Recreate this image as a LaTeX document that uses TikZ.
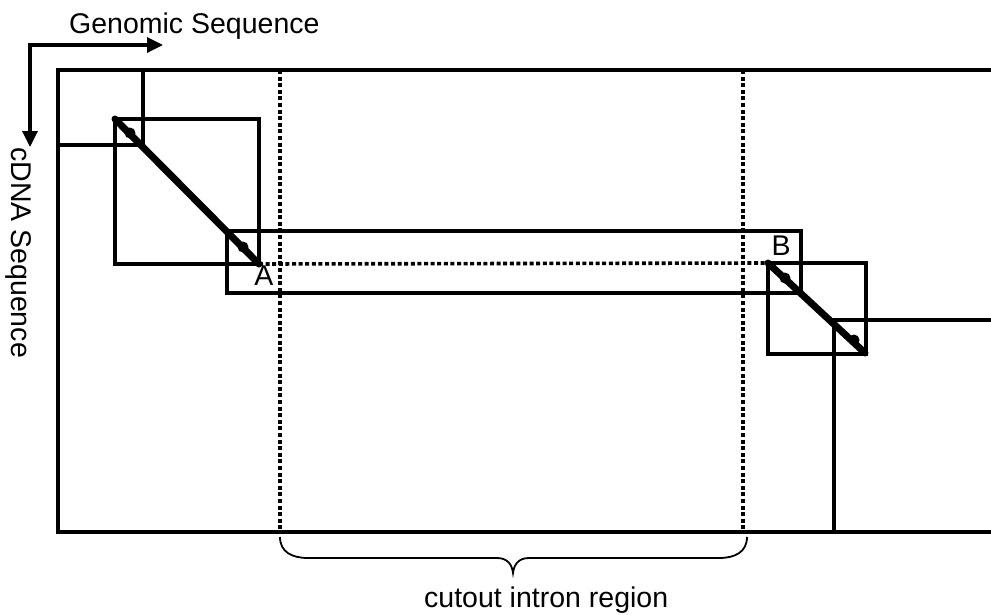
\documentclass[tikz,border=0pt]{standalone}
\usepackage{fontspec}
\setmainfont{Liberation Sans}
\usetikzlibrary{arrows.meta}
\begin{document}
\begin{tikzpicture}[x=1pt,y=-1pt,
  frame/.style={line width=3.4pt, line join=miter},
  cutline/.style={line width=3.6pt, dash pattern=on 4pt off 2.6pt},
  hit/.style={line width=7pt, line cap=round},
  seed/.style={fill=black},
  axis/.style={line width=3.4pt, line join=miter,
    {Triangle[length=16pt,width=15pt]}-{Triangle[length=16pt,width=15pt]}},
  lab/.style={font=\fontsize{28.5}{33}\selectfont, inner sep=0pt},
  bracket/.style={line width=1.8pt},
]
\useasboundingbox (0,0) rectangle (991,614);

% axes of the dot plot
\coordinate (origin) at (30,45);
\coordinate (gend) at (163,45);
\coordinate (cend) at (30,147);
\draw[axis] (cend) -- (origin) -- (gend);
\node[lab, anchor=base west] (genomic) at (69,33) {Genomic Sequence};
\node[lab, rotate=-90, anchor=base west] (cdna) at (12,147) {cDNA Sequence};

% outer alignment matrix (open on the right)
\draw[frame] (991,70) -- (58,70) -- (58,532) -- (991,532);

% search window in the upper left corner
\draw[frame] (143,70) -- (143,145) -- (58,145);

% first exon block and its diagonal hit
\coordinate (a0) at (115,119);
\coordinate (a1) at (259,264);
\draw[frame] (a0) rectangle (a1);
\draw[hit] (a0) -- (a1);
\fill[seed] (130,133) circle (5.5);
\fill[seed] (243,247) circle (5.5);

% band searched across the intron
\draw[frame] (227,231) rectangle (801,293);

% cut-out intron region
\draw[cutline] (280,70) -- (280,532);
\draw[cutline] (743,70) -- (743,532);

% second exon block and its diagonal hit
\coordinate (b0) at (768,263);
\coordinate (b1) at (866,354);
\draw[cutline] (a1) -- (b0);
\draw[frame] (b0) rectangle (b1);
\draw[hit] (b0) -- (865,353);
\fill[seed] (785,278) circle (5.5);
\fill[seed] (854,340) circle (5.5);

% search window in the lower right corner
\draw[frame] (834,532) -- (834,320) -- (991,320);

\node[lab, anchor=base] (splA) at (264,285) {A};
\node[lab, anchor=base] (splB) at (781,255) {B};

% brace under the intron
\draw[bracket] (280,537) .. controls (280,552) and (292,558) .. (308,558)
  -- (497,558) .. controls (507,558) and (512,564) .. (513,573)
  .. controls (514,564) and (519,558) .. (529,558)
  -- (719,558) .. controls (735,558) and (747,552) .. (747,537);
\node[lab, anchor=base west] (intron) at (424,607) {cutout intron region};
\end{tikzpicture}
\end{document}
